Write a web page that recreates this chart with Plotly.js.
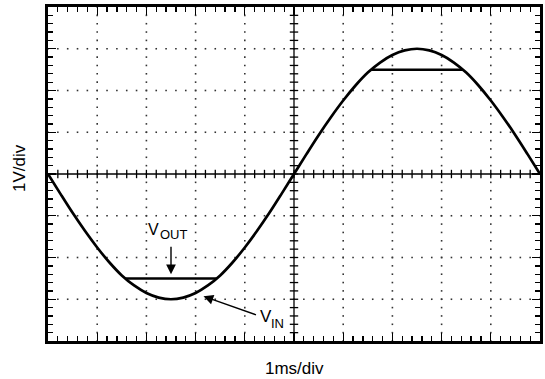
<!DOCTYPE html>
<html>
<head>
<meta charset="utf-8">
<script src="https://cdn.plot.ly/plotly-3.0.1.min.js"></script>
<style>html,body{margin:0;padding:0;background:#fff;}#chart{width:545px;height:379px;}</style>
</head>
<body>
<div id="chart"></div>
<script>
// Time (ms) and input voltage (V)
var timeMs = [0,0.25,0.5,0.75,1,1.25,1.5,1.75,2,2.25,2.5,2.75,3,3.25,3.5,3.75,4,4.25,4.5,4.75,5,
              5.25,5.5,5.75,6,6.25,6.5,6.75,7,7.25,7.5,7.75,8,8.25,8.5,8.75,9,9.25,9.5,9.75,10];
var vIn = [0,-0.47,-0.93,-1.36,-1.76,-2.12,-2.43,-2.67,-2.85,-2.96,-3.0,-2.96,-2.85,-2.67,-2.43,-2.12,-1.76,-1.36,-0.93,-0.47,0,
           0.47,0.93,1.36,1.76,2.12,2.43,2.67,2.85,2.96,3.0,2.96,2.85,2.67,2.43,2.12,1.76,1.36,0.93,0.47,0];
// Clipped output segments
var vOutX = [1.57,3.43,null,6.57,8.43];
var vOutY = [-2.5,-2.5,null,2.5,2.5];
// Labels
var xTitle = "1ms/div";
var yTitle = "1V/div";
var labelV = "V";
var labelOutSub = "OUT";
var labelInSub = "IN";

// grid dots (decoration)
var gx=[],gy=[];
for (var i=1;i<10;i++){ if(i===5) continue; for (var j=0;j<=40;j++){ gx.push(i); gy.push(-4+j*0.2);} }
for (var k=-3;k<=3;k++){ if(k===0) continue; for (var m=0;m<=50;m++){ gx.push(m*0.2); gy.push(k);} }
// center axis cross ticks
var cxX=[],cxY=[],cyX=[],cyY=[];
for (var a=1;a<50;a++){ cxX.push(a*0.2); cxY.push(0); }
for (var b=1;b<40;b++){ cyX.push(5); cyY.push(-4+b*0.2); }

var traces = [
  {x:gx,y:gy,mode:'markers',type:'scatter',hoverinfo:'skip',
   marker:{symbol:'square',size:1.6,color:'#333',line:{width:0}}},
  {x:cxX,y:cxY,mode:'markers',type:'scatter',hoverinfo:'skip',
   marker:{symbol:'line-ns',size:6,line:{width:1.3,color:'#000'}}},
  {x:cyX,y:cyY,mode:'markers',type:'scatter',hoverinfo:'skip',
   marker:{symbol:'line-ew',size:6,line:{width:1.3,color:'#000'}}},
  {x:timeMs,y:vIn,mode:'lines',type:'scatter',line:{color:'#000',width:2.7,shape:'spline'}},
  {x:vOutX,y:vOutY,mode:'lines',type:'scatter',line:{color:'#000',width:2.5}}
];

var axBase = {
  showline:true, linewidth:3, linecolor:'#000', mirror:'ticks',
  showgrid:false, zeroline:false, showticklabels:false,
  ticks:'inside', ticklen:8, tickwidth:1.3, tickcolor:'#000', dtick:1, tick0:0,
  fixedrange:true
};
var xa = Object.assign({}, axBase, {range:[0,10],
  minor:{ticks:'inside', ticklen:5, tickwidth:1.3, tickcolor:'#000', dtick:0.2, showgrid:false}});
var ya = Object.assign({}, axBase, {range:[-4,4],
  minor:{ticks:'inside', ticklen:5, tickwidth:1.3, tickcolor:'#000', dtick:0.2, showgrid:false}});

var F = '"Liberation Sans", Arial, sans-serif';
var layout = {
  width:545, height:379,
  margin:{l:48,r:5,t:7,b:38},
  paper_bgcolor:'#fff', plot_bgcolor:'#fff',
  showlegend:false,
  font:{family:F, color:'#000'},
  xaxis:xa, yaxis:ya,
  shapes:[
    {type:'line',xref:'x',yref:'y',x0:0,x1:10,y0:0,y1:0,line:{color:'#000',width:1.3}},
    {type:'line',xref:'x',yref:'y',x0:5,x1:5,y0:-4,y1:4,line:{color:'#000',width:1.3}}
  ],
  annotations:[
    {xref:'paper',yref:'paper',x:0.5,y:-0.0838,text:xTitle,showarrow:false,xanchor:'center',yanchor:'middle',font:{size:17,color:'#000'}},
    {xref:'paper',yref:'paper',x:-0.0569,y:0.518,text:yTitle,textangle:-90,showarrow:false,xanchor:'center',yanchor:'middle',font:{size:17,color:'#000'}},
    {x:2.154,y:-1.341,xref:'x',yref:'y',text:labelV,showarrow:false,font:{size:16,color:'#000'}},
    {x:2.565,y:-1.451,xref:'x',yref:'y',text:labelOutSub,showarrow:false,font:{size:13,color:'#000'}},
    {x:2.5,y:-2.4,xref:'x',yref:'y',text:'',showarrow:true,ax:0,ay:-29,arrowhead:2,arrowsize:1.4,arrowwidth:1.4,arrowcolor:'#000'},
    {x:4.421,y:-3.425,xref:'x',yref:'y',text:labelV,showarrow:false,font:{size:17,color:'#000'}},
    {x:4.665,y:-3.586,xref:'x',yref:'y',text:labelInSub,showarrow:false,font:{size:13,color:'#000'}},
    {x:3.16,y:-2.93,xref:'x',yref:'y',text:'',showarrow:true,ax:54,ay:19,arrowhead:2,arrowsize:1.4,arrowwidth:1.4,arrowcolor:'#000'}
  ]
};
Plotly.newPlot('chart', traces, layout, {displayModeBar:false, staticPlot:true});
</script>
</body>
</html>
